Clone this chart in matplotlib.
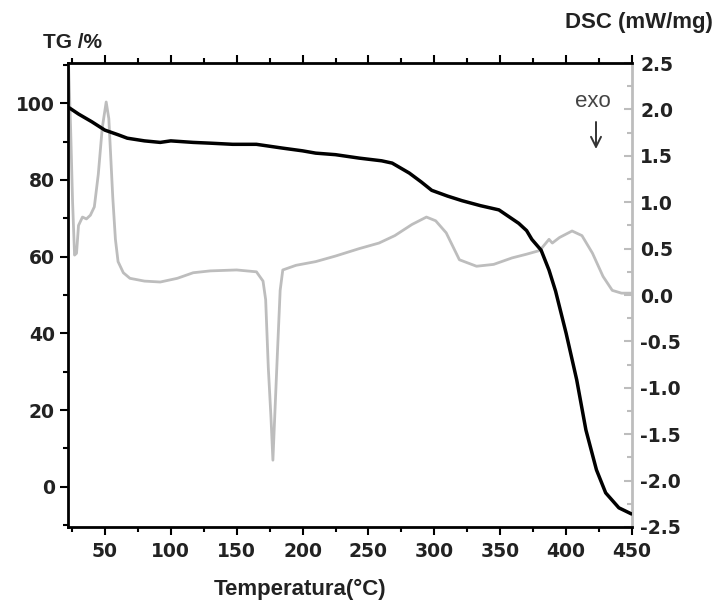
import matplotlib
matplotlib.use('Agg')
import matplotlib.pyplot as plt
from matplotlib.ticker import MultipleLocator

plt.rcParams['font.family'] = ['Liberation Sans', 'DejaVu Sans']
plt.rcParams['axes.unicode_minus'] = False

# TG curve (mass %)
tg_temp = [22, 23.5, 30, 40, 50, 60, 67, 80, 92, 100, 117, 130, 147, 165, 185,
           200, 210, 225, 243, 260, 268, 281, 290, 298, 310, 321, 335, 349, 355,
           364, 370, 374, 381, 387, 392, 400, 408, 415, 423, 430, 440, 449]
tg_val = [99.0, 98.7, 97.2, 95.2, 93.0, 91.8, 90.9, 90.2, 89.8, 90.2, 89.8, 89.6,
          89.3, 89.3, 88.3, 87.6, 87.0, 86.6, 85.7, 85.0, 84.4, 81.8, 79.5, 77.3,
          75.8, 74.6, 73.3, 72.2, 70.8, 68.7, 66.8, 64.5, 61.7, 56.5, 51.0, 40.0,
          27.9, 14.8, 4.4, -1.6, -5.5, -7.0]

# DSC curve (mW/mg)
dsc_temp = [22.5, 24, 25.5, 27, 28.5, 30, 33, 36, 39, 42, 45, 48, 51, 53, 56, 58,
            60, 64, 69, 80, 92, 105, 117, 130, 150, 165, 170, 172, 174, 176, 177.5,
            179, 181, 183, 185, 195, 210, 225, 243, 258, 270, 283, 294, 301, 309,
            319, 332, 345, 359, 370, 380, 387, 389.5, 395, 404.5, 412, 420, 428,
            435, 442, 450]
dsc_val = [2.45, 1.8, 1.0, 0.43, 0.45, 0.75, 0.84, 0.82, 0.86, 0.95, 1.3, 1.8,
           2.08, 1.9, 1.05, 0.6, 0.36, 0.24, 0.18, 0.15, 0.14, 0.18, 0.24, 0.26,
           0.27, 0.25, 0.15, -0.05, -0.78, -1.31, -1.78, -1.27, -0.6, 0.05, 0.27,
           0.32, 0.36, 0.42, 0.5, 0.56, 0.64, 0.76, 0.84, 0.80, 0.67, 0.38, 0.31,
           0.33, 0.40, 0.44, 0.48, 0.60, 0.56, 0.62, 0.69, 0.64, 0.45, 0.20, 0.05,
           0.02, 0.02]

gray = '#bdbdbd'

fig = plt.figure(figsize=(7.17, 6.02), dpi=100)
ax = fig.add_axes([0.0948, 0.1246, 0.7867, 0.7707])
ax2 = ax.twinx()

ax2.plot(dsc_temp, dsc_val, color=gray, lw=2)
ax.plot(tg_temp, tg_val, color='black', lw=2.5)
ax.set_zorder(ax2.get_zorder() + 1)
ax.patch.set_visible(False)

ax.set_xlim(22, 450)
ax.set_ylim(-10.5, 110.5)
ax2.set_ylim(-2.5, 2.5)

ax.xaxis.set_major_locator(MultipleLocator(50))
ax.xaxis.set_minor_locator(MultipleLocator(25))
ax.yaxis.set_major_locator(MultipleLocator(20))
ax.yaxis.set_minor_locator(MultipleLocator(10))
ax2.yaxis.set_major_locator(MultipleLocator(0.5))
ax2.yaxis.set_minor_locator(MultipleLocator(0.25))

for s in ['left', 'bottom', 'top']:
    ax.spines[s].set_linewidth(2)
ax.spines['right'].set_visible(False)
ax2.spines['right'].set_color(gray)
ax2.spines['right'].set_linewidth(2)
for s in ['left', 'bottom', 'top']:
    ax2.spines[s].set_visible(False)

ax.tick_params(axis='x', which='both', direction='out', top=True, width=1.5, pad=5)
ax.tick_params(axis='x', which='major', length=6)
ax.tick_params(axis='x', which='minor', length=3.5)
ax.tick_params(axis='y', which='both', direction='out', width=1.5)
ax.tick_params(axis='y', which='major', length=6)
ax.tick_params(axis='y', which='minor', length=3.5)
ax2.tick_params(axis='y', which='both', direction='in', color=gray, width=1.5, pad=6)
ax2.tick_params(axis='y', which='major', length=6)
ax2.tick_params(axis='y', which='minor', length=3.5)

for lab in ax.get_xticklabels() + ax.get_yticklabels() + ax2.get_yticklabels():
    lab.set_fontfamily('DejaVu Sans')
    lab.set_fontweight('bold')
    lab.set_fontsize(13.5)
    lab.set_color('#222222')

fig.text(0.4184, 1 - 595 / 602, 'Temperatura(°C)', fontsize=16, fontweight='bold',
         color='#222222', ha='center', va='baseline')
fig.text(0.060, 1 - 48 / 602, 'TG /%', fontsize=15, fontweight='bold',
         color='#222222', va='baseline')
fig.text(565 / 717, 1 - 28 / 602, 'DSC (mW/mg)', fontsize=16, fontweight='bold',
         color='#222222', va='baseline')
fig.text(593 / 717, 1 - 107 / 602, 'exo', fontsize=16, color='#444444',
         ha='center', va='baseline')

# exo arrow pointing down
fig.add_artist(matplotlib.patches.FancyArrowPatch(
    (596 / 717, 1 - 122 / 602), (596 / 717, 1 - 149 / 602),
    transform=fig.transFigure, arrowstyle='->', mutation_scale=18,
    shrinkA=0, shrinkB=0, lw=1.4, color='#333333'))

fig.savefig('out.png', dpi=100)
